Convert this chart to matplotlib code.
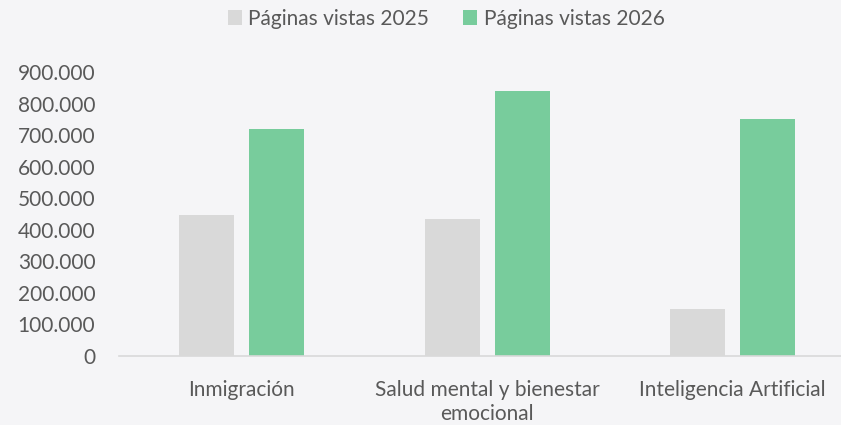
import matplotlib.pyplot as plt
import numpy as np
from matplotlib.ticker import FuncFormatter

# datos
categorias = ["Inmigración", "Salud mental y bienestar\nemocional", "Inteligencia Artificial"]
vistas_2025 = [448000, 434000, 150000]
vistas_2026 = [719000, 839000, 750000]
series = ["Páginas vistas 2025", "Páginas vistas 2026"]

plt.rcParams["font.family"] = ["Lato", "DejaVu Sans"]
texto = "#595959"
fondo = "#f5f5f7"

fig = plt.figure(figsize=(8.41, 4.25), dpi=100, facecolor=fondo)
ax = fig.add_axes([119 / 841, 1 - 356 / 425, 736.5 / 841, 284 / 425], facecolor=fondo)

x = np.arange(len(categorias))
ancho = 0.224
sep = 0.1425
ax.bar(x - sep, vistas_2025, ancho, color="#d9d9d9", label=series[0])
ax.bar(x + sep, vistas_2026, ancho, color="#78cc9c", label=series[1])

ax.set_xlim(-0.5, 2.5)
ax.set_ylim(0, 900000)
ax.set_yticks(np.arange(0, 900001, 100000))
ax.yaxis.set_major_formatter(FuncFormatter(lambda v, p: f"{int(v):,}".replace(",", ".")))
ax.set_xticks(x)
ax.set_xticklabels(categorias, linespacing=1.25)

for s in ["top", "right", "left"]:
    ax.spines[s].set_visible(False)
ax.spines["bottom"].set_color("#d9d9d9")
ax.spines["bottom"].set_linewidth(1.2)

ax.tick_params(axis="y", length=0, pad=17, labelsize=15, labelcolor=texto)
ax.tick_params(axis="x", length=0, pad=17, labelsize=15, labelcolor=texto)

fig.legend(loc="center", bbox_to_anchor=(446 / 841, 1 - 19 / 425), ncol=2, frameon=False,
           fontsize=15, labelcolor=texto, handlelength=0.7, handleheight=0.7,
           handletextpad=0.3, columnspacing=1.6)

plt.savefig("out.png", dpi=100, facecolor=fondo)
